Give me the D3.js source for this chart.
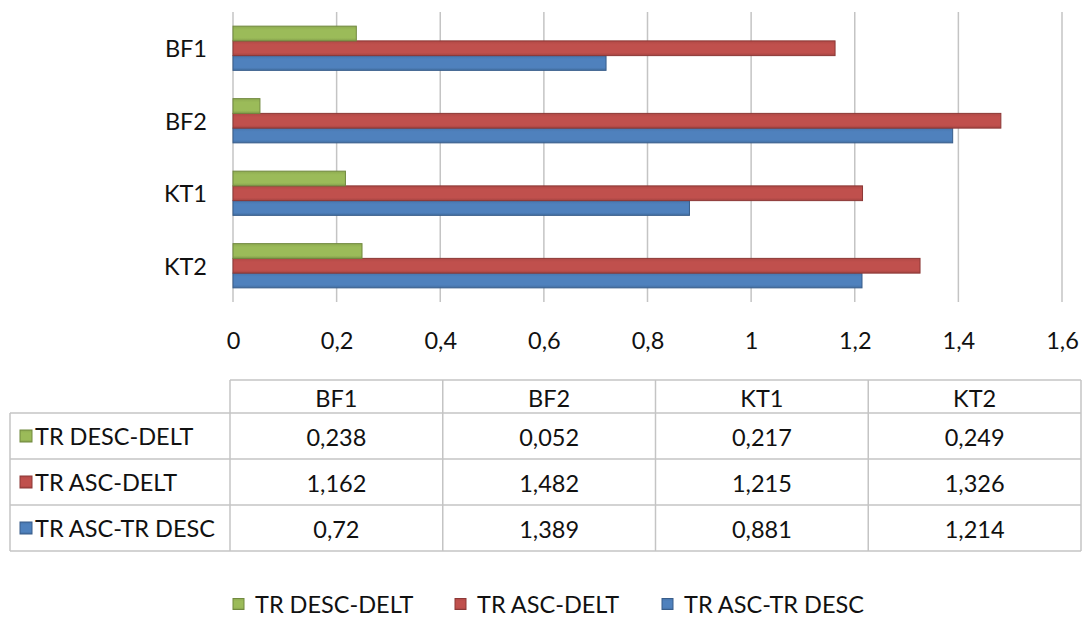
<!DOCTYPE html>
<html>
<head>
<meta charset="utf-8">
<script src="https://cdn.jsdelivr.net/npm/d3@7"></script>
<style>
  html, body { margin: 0; padding: 0; background: #ffffff; }
  svg { display: block; }
  text { font-family: Lato, "Noto Sans", sans-serif; fill: #111111; }
</style>
</head>
<body>
<script>
// Categories and series values
const categories = ["BF1", "BF2", "KT1", "KT2"];
const seriesNames = ["TR DESC-DELT", "TR ASC-DELT", "TR ASC-TR DESC"];
const trDescDelt = [0.238, 0.052, 0.217, 0.249];
const trAscDelt = [1.162, 1.482, 1.215, 1.326];
const trAscTrDesc = [0.72, 1.389, 0.881, 1.214];
const xTicks = [0, 0.2, 0.4, 0.6, 0.8, 1, 1.2, 1.4, 1.6];

const seriesValues = [trDescDelt, trAscDelt, trAscTrDesc];
const fills = ["#9BBB59", "#C0504D", "#4F81BD"];
const edges = ["#71893F", "#8C3836", "#385D8A"];

const W = 1086, H = 620;
const plot = { left: 233, right: 1062, top: 12, bottom: 302 };
const FS = 23.5;

const locale = d3.formatLocale({ decimal: ",", thousands: ".", grouping: [3], currency: ["", ""] });
const fmt = locale.format("~g");

const svg = d3.select("body").append("svg")
  .attr("width", W).attr("height", H);

svg.append("rect").attr("width", W).attr("height", H).attr("fill", "#fff");

// Bar gradients: slightly darker towards the edges
const defs = svg.append("defs");
fills.forEach((c, i) => {
  const g = defs.append("linearGradient")
    .attr("id", "grad" + i).attr("x1", 0).attr("y1", 0).attr("x2", 0).attr("y2", 1);
  const base = d3.color(c);
  g.append("stop").attr("offset", "0%").attr("stop-color", base.darker(0.25));
  g.append("stop").attr("offset", "25%").attr("stop-color", base);
  g.append("stop").attr("offset", "80%").attr("stop-color", base);
  g.append("stop").attr("offset", "100%").attr("stop-color", base.darker(0.45));
});

const x = d3.scaleLinear().domain([0, 1.6]).range([plot.left, plot.right]);
const y = d3.scaleBand().domain(categories).range([plot.top, plot.bottom])
  .paddingInner(0.39).paddingOuter(0.195);
const ySeries = d3.scaleBand().domain(d3.range(seriesNames.length))
  .range([0, y.bandwidth()]);

// Vertical gridlines
svg.append("g").selectAll("line").data(xTicks).join("line")
  .attr("x1", d => x(d)).attr("x2", d => x(d))
  .attr("y1", plot.top).attr("y2", plot.bottom)
  .attr("stroke", "#c4c4c4").attr("stroke-width", 1.5);

// Bars
const groups = svg.append("g").selectAll("g").data(categories).join("g")
  .attr("transform", d => `translate(0,${y(d)})`);

groups.each(function (cat, ci) {
  const g = d3.select(this);
  // draw bottom series first so upper ones sit on top
  for (let si = seriesNames.length - 1; si >= 0; si--) {
    const v = seriesValues[si][ci];
    g.append("rect")
      .attr("x", x(0))
      .attr("y", ySeries(si))
      .attr("width", x(v) - x(0))
      .attr("height", ySeries.bandwidth())
      .attr("fill", `url(#grad${si})`)
      .attr("stroke", edges[si])
      .attr("stroke-width", 1);
  }
});

// Category labels
svg.append("g").selectAll("text").data(categories).join("text")
  .attr("x", 207)
  .attr("y", d => y(d) + y.bandwidth() / 2)
  .attr("text-anchor", "end")
  .attr("dominant-baseline", "central")
  .attr("font-size", FS)
  .text(d => d);

// X axis tick labels
const xAxis = d3.axisBottom(x).tickValues(xTicks).tickFormat(fmt).tickSize(0).tickPadding(0);
const axisG = svg.append("g").attr("transform", `translate(0,${plot.bottom})`).call(xAxis);
axisG.select(".domain").remove();
axisG.selectAll("text")
  .attr("y", 38)
  .attr("dy", null)
  .attr("dominant-baseline", "central")
  .attr("font-size", FS)
  .attr("font-family", "Lato, 'Noto Sans', sans-serif")
  .attr("fill", "#111111");

// Data table
const tbl = { left: 10, labelRight: 230, right: 1081, top: 380, headBottom: 413, rowH: 46 };
const colX = d3.scaleBand().domain(categories).range([tbl.labelRight, tbl.right]);
const rowY = d3.scaleBand().domain(d3.range(seriesNames.length))
  .range([tbl.headBottom, tbl.headBottom + tbl.rowH * seriesNames.length]);
const tblBottom = tbl.headBottom + tbl.rowH * seriesNames.length;
const lineColor = "#c4c4c4";
const tg = svg.append("g").attr("stroke", lineColor).attr("stroke-width", 1.5).attr("fill", "none");

// header row outline
tg.append("line").attr("x1", tbl.labelRight).attr("x2", tbl.right).attr("y1", tbl.top).attr("y2", tbl.top);
// body horizontal lines
[tbl.headBottom, ...d3.range(1, seriesNames.length).map(i => rowY(i)), tblBottom].forEach(yy => {
  tg.append("line").attr("x1", tbl.left).attr("x2", tbl.right).attr("y1", yy).attr("y2", yy);
});
// vertical lines
tg.append("line").attr("x1", tbl.left).attr("x2", tbl.left).attr("y1", tbl.headBottom).attr("y2", tblBottom);
[...categories.map(c => colX(c)), tbl.right].forEach(xx => {
  tg.append("line").attr("x1", xx).attr("x2", xx).attr("y1", tbl.top).attr("y2", tblBottom);
});

// header labels
svg.append("g").selectAll("text").data(categories).join("text")
  .attr("x", d => colX(d) + colX.bandwidth() / 2)
  .attr("y", (tbl.top + tbl.headBottom) / 2 + 1)
  .attr("text-anchor", "middle")
  .attr("dominant-baseline", "central")
  .attr("font-size", FS)
  .text(d => d);

// row labels with keys
seriesNames.forEach((name, si) => {
  const cy = rowY(si) + rowY.bandwidth() / 2;
  svg.append("rect")
    .attr("x", 20).attr("y", cy - 6).attr("width", 12).attr("height", 12)
    .attr("fill", `url(#grad${si})`).attr("stroke", edges[si]).attr("stroke-width", 1);
  svg.append("text")
    .attr("x", 35).attr("y", cy)
    .attr("dominant-baseline", "central")
    .attr("font-size", FS)
    .text(name);
  categories.forEach((cat, ci) => {
    svg.append("text")
      .attr("x", colX(cat) + colX.bandwidth() / 2)
      .attr("y", cy + 1)
      .attr("text-anchor", "middle")
      .attr("dominant-baseline", "central")
      .attr("font-size", FS)
      .text(fmt(seriesValues[si][ci]));
  });
});

// Legend
const legendX = [233, 455, 662];
const legendY = 604;
const legend = svg.append("g");
seriesNames.forEach((name, si) => {
  legend.append("rect")
    .attr("x", legendX[si]).attr("y", legendY - 5.5).attr("width", 11).attr("height", 11)
    .attr("fill", `url(#grad${si})`).attr("stroke", edges[si]).attr("stroke-width", 1);
  legend.append("text")
    .attr("x", legendX[si] + 22).attr("y", legendY)
    .attr("dominant-baseline", "central")
    .attr("font-size", FS)
    .text(name);
});
</script>
</body>
</html>
